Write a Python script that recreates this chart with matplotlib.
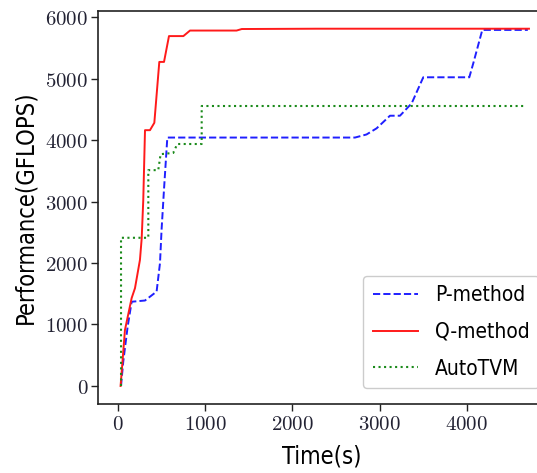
import matplotlib
matplotlib.use("Agg")
import matplotlib.pyplot as plt
from matplotlib import font_manager
from matplotlib.ticker import FuncFormatter, MultipleLocator

# Tuning-time traces: elapsed time (s) and best performance found (GFLOPS)
p_time = [35, 61, 111, 157, 310, 443, 482, 500, 528, 566, 2718, 2850, 2966, 3119, 3234,
          3368, 3501, 4029, 4075, 4178, 4700]
p_perf = [0, 400, 965, 1370, 1390, 1535, 2000, 2540, 3200, 4040, 4040, 4090, 4190, 4395, 4395,
          4596, 5020, 5020, 5250, 5790, 5790]

q_time = [30, 80, 157, 195, 252, 272, 290, 310, 367, 417, 474, 528, 585, 750, 826, 1360,
          1420, 2280, 4713]
q_perf = [0, 910, 1430, 1590, 2050, 2400, 3020, 4160, 4160, 4280, 5270, 5270, 5690, 5690,
          5780, 5780, 5805, 5810, 5810]

a_time = [35, 35, 348, 348, 462, 489, 634, 680, 960, 960, 4675]
a_perf = [0, 2410, 2410, 3510, 3510, 3770, 3790, 3935, 3935, 4553, 4553]

series_names = ["P-method", "Q-method", "AutoTVM"]

plt.rcParams["mathtext.fontset"] = "cm"

# Prefer a condensed sans for the labels when one is installed
condensed = [f for f in font_manager.fontManager.ttflist
             if f.stretch in ("condensed", "semi-condensed", 600, 500) or "Condensed" in f.fname
             or "Narrow" in f.fname]
label_props = dict(family=["DejaVu Sans"], stretch="condensed")
for f in condensed:
    if "Bold" not in f.fname and "Oblique" not in f.fname and "Italic" not in f.fname:
        label_props = dict(fname=f.fname)
        break

W, H = 537, 473
fig = plt.figure(figsize=(W / 100, H / 100), dpi=100)
left_px, right_px, top_px, bottom_px = 98, 545, 11, 404
ax = fig.add_axes([left_px / W, 1 - bottom_px / H,
                   (right_px - left_px) / W, (bottom_px - top_px) / H])

ax.plot(p_time, p_perf, "--", color="#1f1fff", lw=1.4, label=series_names[0])
ax.plot(q_time, q_perf, "-", color="#ff1a1a", lw=1.4, label=series_names[1])
ax.plot(a_time, a_perf, ":", color="#1a8a1a", lw=1.5, label=series_names[2])

ax.set_xlim(-229, 4897)
ax.set_ylim(-293, 6098)
ax.xaxis.set_major_locator(MultipleLocator(1000))
ax.yaxis.set_major_locator(MultipleLocator(1000))
fmt = FuncFormatter(lambda v, _: r"$%d$" % v)
ax.xaxis.set_major_formatter(fmt)
ax.yaxis.set_major_formatter(fmt)
ax.tick_params(labelsize=15, length=5, width=1.0, pad=2, colors="#222222", labelcolor="#222233")
for s in ax.spines.values():
    s.set_linewidth(1.2)
    s.set_color("#222222")

lab_fp = font_manager.FontProperties(size=17, **label_props)
leg_fp = font_manager.FontProperties(size=15, **label_props)
ax.set_xlabel("Time(s)", fontproperties=lab_fp, labelpad=8)
ax.set_ylabel("Performance(GFLOPS)", fontproperties=lab_fp, labelpad=6)

leg = ax.legend(loc="lower right", bbox_to_anchor=(1.004, 85 / H),
                bbox_transform=fig.transFigure, prop=leg_fp, borderaxespad=0,
                handlelength=2.2, handletextpad=0.8, labelspacing=0.8, borderpad=0.45,
                fancybox=True, framealpha=1.0, edgecolor="#cccccc")

fig.savefig("out.png", dpi=100)
